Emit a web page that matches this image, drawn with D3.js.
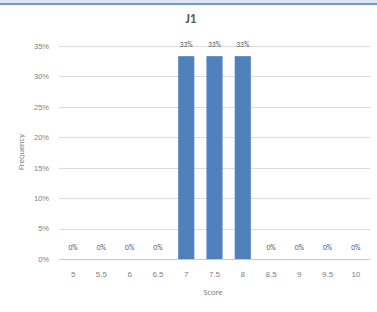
<!DOCTYPE html>
<html>
<head>
<meta charset="utf-8">
<script src="https://cdn.jsdelivr.net/npm/d3@7"></script>
<style>
  body { margin: 0; background: #fff; }
  svg { display: block; font-family: Calibri, "Liberation Sans", Carlito, sans-serif; }
</style>
</head>
<body>
<div id="chart"></div>
<script>
// chart data
const scores = ['5', '5.5', '6', '6.5', '7', '7.5', '8', '8.5', '9', '9.5', '10'];
const frequency = [0, 0, 0, 0, 0.3333, 0.3333, 0.3333, 0, 0, 0, 0];
const yTicks = [0, 0.05, 0.10, 0.15, 0.20, 0.25, 0.30, 0.35];
const chartTitle = 'J1';

const width = 377, height = 312;
const margin = { top: 46, right: 7, bottom: 53, left: 59 };

const svg = d3.select('#chart').append('svg')
  .attr('width', width)
  .attr('height', height);

// window frame strip at the top
svg.append('rect').attr('x', 0).attr('y', 0).attr('width', width).attr('height', 3).attr('fill', '#dce6f2');
svg.append('rect').attr('x', 0).attr('y', 3).attr('width', width).attr('height', 2).attr('fill', '#6a98d4');

const x = d3.scaleBand()
  .domain(scores)
  .range([margin.left, width - margin.right])
  .paddingInner(0.43)
  .paddingOuter(0.215);

const y = d3.scaleLinear()
  .domain([0, 0.35])
  .range([height - margin.bottom, margin.top]);

const pct = d3.format('.0%');

// gridlines
svg.append('g')
  .selectAll('line')
  .data(yTicks)
  .enter().append('line')
  .attr('x1', margin.left)
  .attr('x2', width - margin.right)
  .attr('y1', d => Math.round(y(d)) + 0.5)
  .attr('y2', d => Math.round(y(d)) + 0.5)
  .attr('stroke', d => d === 0 ? '#c8c8c8' : '#dcdcdc')
  .attr('stroke-width', 1);

// y axis labels
const yAxis = svg.append('g')
  .attr('transform', 'translate(' + margin.left + ',0)')
  .call(d3.axisLeft(y).tickValues(yTicks).tickFormat(pct).tickSize(0).tickPadding(10));
yAxis.select('.domain').remove();
yAxis.selectAll('text').attr('fill', '#808080').style('font-size', '7.5px');

// x axis labels
const xAxis = svg.append('g')
  .attr('transform', 'translate(0,' + (height - margin.bottom) + ')')
  .call(d3.axisBottom(x).tickSize(0).tickPadding(12));
xAxis.select('.domain').remove();
xAxis.selectAll('text').attr('fill', '#808080').style('font-size', '8px');

// bars
svg.append('g')
  .selectAll('.bar')
  .data(frequency)
  .enter().append('rect')
  .attr('class', 'bar')
  .attr('x', (d, i) => x(scores[i]))
  .attr('y', d => y(d))
  .attr('width', x.bandwidth())
  .attr('height', d => y(0) - y(d))
  .attr('fill', '#4f81bd');

// value labels
svg.append('g')
  .selectAll('text')
  .data(frequency)
  .enter().append('text')
  .attr('x', (d, i) => x(scores[i]) + x.bandwidth() / 2)
  .attr('y', d => y(d) - 9)
  .attr('text-anchor', 'middle')
  .attr('fill', '#595959')
  .style('font-size', '7.5px')
  .text(d => pct(d));

// title
svg.append('text')
  .attr('x', 191)
  .attr('y', 23)
  .attr('text-anchor', 'middle')
  .attr('fill', '#595959')
  .style('font-size', '13px')
  .style('font-weight', 'bold')
  .text(chartTitle);

// axis titles
svg.append('text')
  .attr('x', 213)
  .attr('y', 295)
  .attr('text-anchor', 'middle')
  .attr('fill', '#808080')
  .style('font-size', '8.5px')
  .text('Score');

svg.append('text')
  .attr('transform', 'translate(24,152) rotate(-90)')
  .attr('text-anchor', 'middle')
  .attr('fill', '#808080')
  .style('font-size', '8.5px')
  .text('Frequency');
</script>
</body>
</html>
